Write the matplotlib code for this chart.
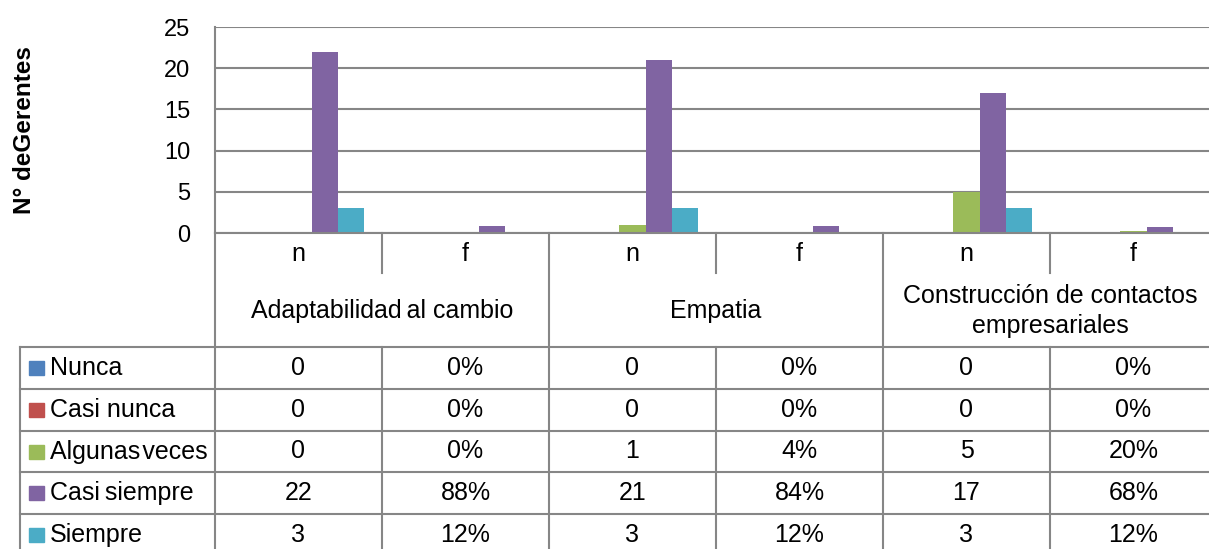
import numpy as np
import matplotlib.pyplot as plt
from matplotlib.transforms import blended_transform_factory

plt.rcParams['font.family'] = ['Liberation Sans', 'DejaVu Sans']

# Datos
grupos = ['Adaptabilidad\u2009al cambio', 'Empatia', 'Construcción de contactos\nempresariales']
columnas = ['n', 'f', 'n', 'f', 'n', 'f']
series = ['Nunca', 'Casi nunca', 'Algunas\u200aveces', 'Casi\u2009siempre', 'Siempre']
colores = ['#4F81BD', '#C0504D', '#9BBB59', '#8064A2', '#4BACC6']

# n = número de gerentes, f = frecuencia relativa (una fila por serie)
nunca = [0, 0.00, 0, 0.00, 0, 0.00]
casi_nunca = [0, 0.00, 0, 0.00, 0, 0.00]
algunas_veces = [0, 0.00, 1, 0.04, 5, 0.20]
casi_siempre = [22, 0.88, 21, 0.84, 17, 0.68]
siempre = [3, 0.12, 3, 0.12, 3, 0.12]
valores = [nunca, casi_nunca, algunas_veces, casi_siempre, siempre]

W, H = 1209, 549
fig = plt.figure(figsize=(W / 100, H / 100), dpi=100)

# área del gráfico (en píxeles: x 215..1217, y 27..233)
x0, x1, ytop, ybase = 215, 1217, 27, 233
ax = fig.add_axes([x0 / W, (H - ybase) / H, (x1 - x0) / W, (ybase - ytop) / H])

gris = '#868686'
x = np.arange(len(columnas))
ancho = 0.156
for i, (nombre, fila, c) in enumerate(zip(series, valores, colores)):
    ax.bar(x + (i - 2) * ancho, fila, width=ancho, color=c, zorder=2)

ax.set_xlim(-0.5, len(columnas) - 0.5)
ax.set_ylim(0, 25)
ax.set_yticks(range(0, 26, 5))
ax.set_xticks([])
ax.tick_params(axis='y', length=0, pad=18, labelsize=17)
ax.grid(axis='y', color=gris, lw=1.5, zorder=0)
for s in ['top', 'right']:
    ax.spines[s].set_visible(False)
for s in ['left', 'bottom']:
    ax.spines[s].set_color(gris)
    ax.spines[s].set_linewidth(1.5)
    ax.spines[s].set_zorder(3)

fig.text(25 / W, 1 - 130 / H, 'N° deGerentes', rotation=90, ha='center', va='center',
         fontsize=17.5, fontweight='bold')

# tabla de datos debajo del gráfico
tab = fig.add_axes([0, 0, 1, 1], facecolor='none')
tab.set_xlim(0, W)
tab.set_ylim(H, 0)
tab.axis('off')
tr = blended_transform_factory(ax.transData, tab.transData)

lw = 1.5
fs = 18
filas_y = [347, 389, 431, 472, 514, 556]

# líneas horizontales
for y in filas_y[:-1]:
    tab.plot([20, W + 10], [y, y], color=gris, lw=lw, clip_on=False)
# líneas verticales
tab.plot([20, 20], [347, H + 5], color=gris, lw=lw)
tab.plot([x0, x0], [ybase, H + 5], color=gris, lw=lw)
for k in range(len(columnas)):
    borde = k + 0.5
    if k % 2 == 0:
        tab.plot([borde, borde], [ybase, 273], color=gris, lw=lw, transform=tr)
        tab.plot([borde, borde], [347, H + 5], color=gris, lw=lw, transform=tr)
    else:
        tab.plot([borde, borde], [ybase, H + 5], color=gris, lw=lw, transform=tr)

# encabezados n / f y nombres de los grupos
for k, col in enumerate(columnas):
    tab.text(k, 254, col, transform=tr, ha='center', va='center', fontsize=fs)
for g, nombre in enumerate(grupos):
    tab.text(2 * g + 0.5, 311, nombre, transform=tr, ha='center', va='center',
             fontsize=fs, linespacing=1.32)

# filas con leyenda y valores
for i, (nombre, fila, c) in enumerate(zip(series, valores, colores)):
    yc = (filas_y[i] + filas_y[i + 1]) / 2
    tab.add_patch(plt.Rectangle((29, yc - 7), 15, 14, color=c))
    tab.text(50, yc, nombre, ha='left', va='center', fontsize=fs)
    for k, v in enumerate(fila):
        texto = f'{v:.0%}' if columnas[k] == 'f' else f'{v:g}'
        tab.text(k, yc, texto, transform=tr, ha='center', va='center', fontsize=fs)

fig.savefig('out.png', dpi=100)
